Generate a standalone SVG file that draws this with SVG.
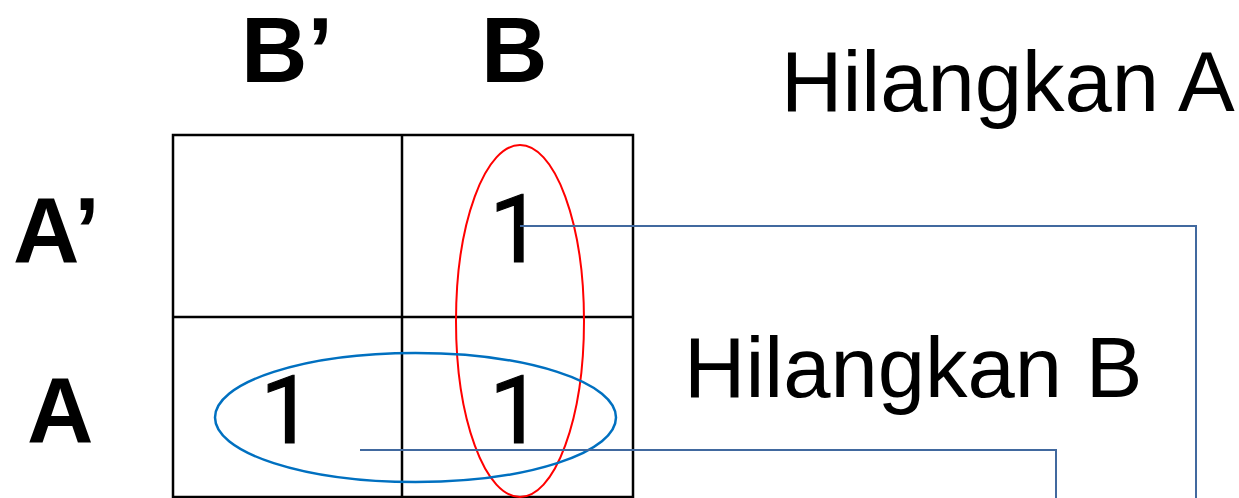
<svg xmlns="http://www.w3.org/2000/svg" width="1239" height="498" viewBox="0 0 1239 498">
<style>
.lbl{font-family:"Liberation Sans",Arial,sans-serif;font-weight:bold;font-size:92px;fill:#000}
.one{font-family:Roboto,"Liberation Sans",Arial,sans-serif;font-size:95px;fill:#000;stroke:#000;stroke-width:1.2;text-anchor:middle}
.note{font-family:"Liberation Sans",Arial,sans-serif;font-size:85px;fill:#000}
.grid{fill:none;stroke:#000;stroke-width:2.5}
.conn{fill:none;stroke:#41699F;stroke-width:2}
</style>
<rect width="1239" height="498" fill="#fff"/>
<g id="headers">
<text class="lbl" x="241" y="82">B’</text>
<text class="lbl" x="481" y="82">B</text>
<text class="lbl" x="13" y="262">A’</text>
<text class="lbl" x="27" y="442">A</text>
</g>
<g id="kmap">
<rect class="grid" x="173" y="135" width="460" height="362"/>
<line class="grid" x1="402" y1="135" x2="402" y2="497"/>
<line class="grid" x1="173" y1="317" x2="633" y2="317"/>
</g>
<g id="cells">
<text class="one" x="516" y="262">1</text>
<text class="one" x="287" y="443">1</text>
<text class="one" x="516" y="443">1</text>
</g>
<g id="groupB">
<ellipse cx="520" cy="321" rx="64" ry="176" fill="none" stroke="#FF0000" stroke-width="2"/>
</g>
<g id="groupA">
<ellipse cx="415.5" cy="417.5" rx="200.5" ry="64.5" fill="none" stroke="#0070C0" stroke-width="2.5"/>
</g>
<g id="labelA">
<text class="note" x="781" y="111">Hilangkan A</text>
</g>
<g id="labelB">
<text class="note" x="684" y="397">Hilangkan B</text>
</g>
<g id="connectors">
<polyline class="conn" points="520,226 1196,226 1196,498"/>
<polyline class="conn" points="360,450 1056,450 1056,498"/>
</g>
</svg>
